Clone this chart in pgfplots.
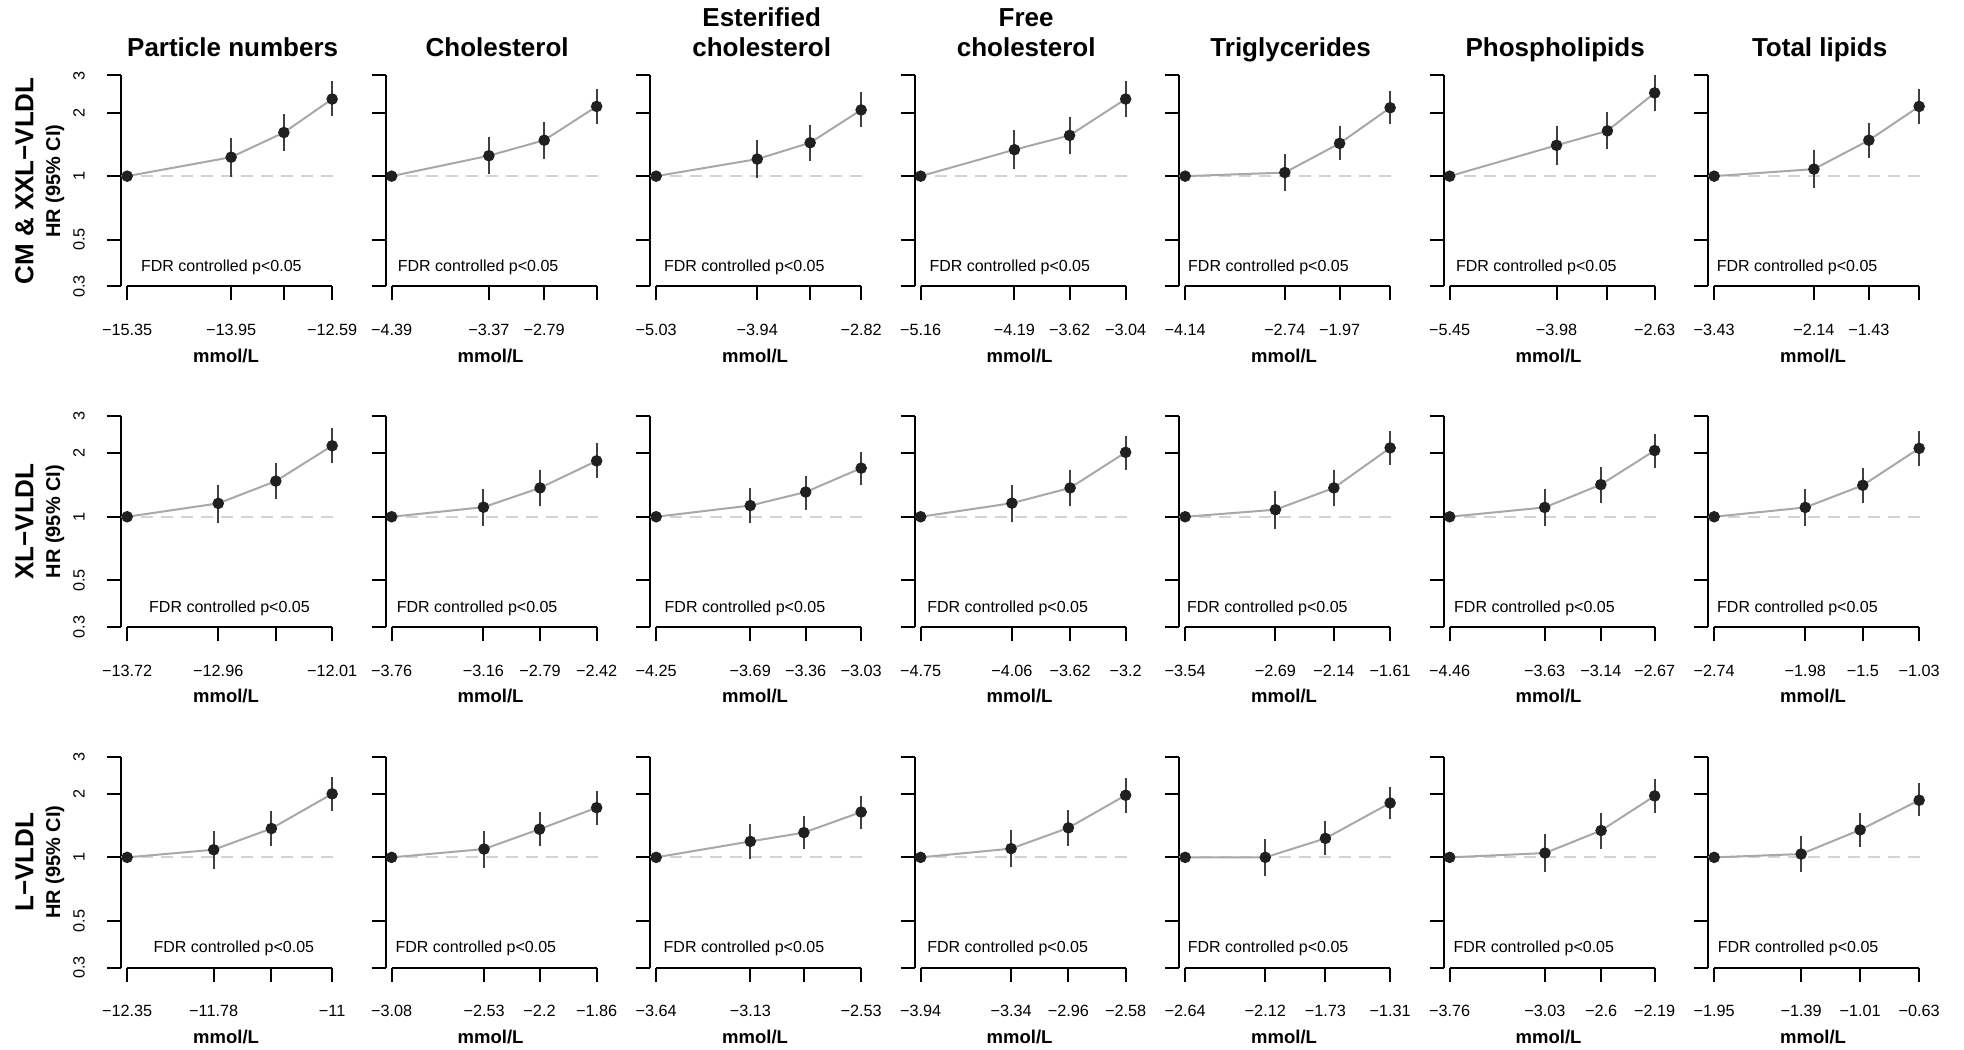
\documentclass[border=0pt]{standalone}
\usepackage{fontspec}
\setmainfont{Liberation Sans}
\usepackage{pgfplots}
\pgfplotsset{compat=1.18}
\definecolor{ptcol}{HTML}{202020}
\definecolor{linecol}{HTML}{A8A8A8}
\definecolor{cicol}{HTML}{404040}
\definecolor{refcol}{HTML}{D3D3D3}
\pgfplotsset{
  hrpanel/.style={
    scale only axis, width=86.92pt, height=84.4pt, anchor=south west,
    ymin=0.3, ymax=3, yminorticks=false,
    enlarge x limits=0.03, clip=false,
    axis x line*=bottom, axis y line*=left,
    x axis line style={draw=none},
    y axis line style={line width=0.8pt, black},
    tick align=outside, major tick length=5.6pt,
    major tick style={line width=0.8pt, black},
    ytick={0.3,0.5,1,2,3}, yticklabels={},
    xticklabel style={font=\fontsize{6.5}{7.5}\selectfont, anchor=base},
    xticklabel shift=14pt,
    xlabel={mmol/L},
    xlabel style={font=\fontsize{7.4}{9}\selectfont\bfseries, at={(axis description cs:0.5,0)}, anchor=base, yshift=-30.3pt, xshift=-1.44pt},
  },
  hrylab/.style={yticklabels={0.3,0.5,1,2,3}, yticklabel style={font=\fontsize{6.5}{7.5}\selectfont, rotate=90, anchor=base}, yticklabel shift=9pt},
  hrconn/.style={color=linecol, line width=0.8pt, no markers},
  hrci/.style={color=cicol, line width=0.8pt, no markers, unbounded coords=jump},
  hrpts/.style={only marks, mark=*, mark size=2.1pt, color=ptcol, mark options={fill=ptcol, draw=ptcol}},
}
\tikzset{
  refl/.style={color=refcol, line width=0.8pt, dash pattern=on 4.8pt off 3.2pt},
  axl/.style={line width=0.8pt, black},
  fdr/.style={font=\fontsize{6.4}{7.5}\selectfont, anchor=base west, inner sep=0pt},
  ttl/.style={font=\fontsize{10.4}{12}\selectfont\bfseries, anchor=base, inner sep=0pt},
  rowl/.style={font=\fontsize{10.4}{12}\selectfont\bfseries, rotate=90, anchor=base, inner sep=0pt},
  hrl/.style={font=\fontsize{8}{9}\selectfont\bfseries, rotate=90, anchor=base, inner sep=0pt},
}
\newcommand{\refline}{\draw[refl] (rel axis cs:0,0.52288) -- (rel axis cs:1,0.52288);}
\newcommand{\fdrtext}[1]{\node[fdr] at ([xshift=#1,yshift=5.88pt]rel axis cs:0,0) {FDR controlled p<0.05};}
\newcommand{\ttlone}[1]{\node[ttl] at ([xshift=1.2pt,yshift=7.6pt]rel axis cs:0.5,1) {#1};}
\newcommand{\ttltwo}[2]{\node[ttl] at ([xshift=1.2pt,yshift=19.6pt]rel axis cs:0.5,1) {#1};\node[ttl] at ([xshift=1.2pt,yshift=7.6pt]rel axis cs:0.5,1) {#2};}
\begin{document}
\begin{tikzpicture}
\useasboundingbox (0,0) rectangle (785.6pt,420pt);
% row labels
\node[rowl] at (13.4pt,347.6pt) {CM \& XXL−VLDL};
\node[hrl] at (24pt,347.6pt) {HR (95\% CI)};
\node[rowl] at (13.4pt,211.36pt) {XL−VLDL};
\node[hrl] at (24pt,211.36pt) {HR (95\% CI)};
\node[rowl] at (13.4pt,75.12pt) {L−VLDL};
\node[hrl] at (24pt,75.12pt) {HR (95\% CI)};

%================ ROW 1 ================
\begin{axis}[ymode=log, hrpanel, hrylab, at={(48.4pt,305.4pt)}, xtick={-15.35,-13.95,-13.24,-12.59}, xticklabels={−15.35,−13.95,,−12.59}]
\refline
\addplot[hrconn] coordinates {(-15.35,1)(-13.95,1.23)(-13.24,1.61)(-12.59,2.32)};
\addplot[hrci] coordinates {(-13.95,0.99)(-13.95,1.52)(-13.95,nan)(-13.24,1.32)(-13.24,1.97)(-13.24,nan)(-12.59,1.92)(-12.59,2.81)};
\addplot[hrpts] coordinates {(-15.35,1)(-13.95,1.23)(-13.24,1.61)(-12.59,2.32)};
\draw[axl] (axis cs:-15.35,0.3) -- (axis cs:-12.59,0.3);
\fdrtext{7.84pt}
\ttlone{Particle numbers}
\end{axis}

\begin{axis}[ymode=log, hrpanel, at={(154.2pt,305.4pt)}, xtick={-4.39,-3.37,-2.79,-2.24}, xticklabels={−4.39,−3.37,−2.79,}]
\refline
\addplot[hrconn] coordinates {(-4.39,1)(-3.37,1.25)(-2.79,1.48)(-2.24,2.14)};
\addplot[hrci] coordinates {(-3.37,1.02)(-3.37,1.54)(-3.37,nan)(-2.79,1.21)(-2.79,1.80)(-2.79,nan)(-2.24,1.77)(-2.24,2.60)};
\addplot[hrpts] coordinates {(-4.39,1)(-3.37,1.25)(-2.79,1.48)(-2.24,2.14)};
\draw[axl] (axis cs:-4.39,0.3) -- (axis cs:-2.24,0.3);
\fdrtext{4.72pt}
\ttlone{Cholesterol}
\end{axis}

\begin{axis}[ymode=log, hrpanel, at={(260.0pt,305.4pt)}, xtick={-5.03,-3.94,-3.37,-2.82}, xticklabels={−5.03,−3.94,,−2.82}]
\refline
\addplot[hrconn] coordinates {(-5.03,1)(-3.94,1.205)(-3.37,1.44)(-2.82,2.06)};
\addplot[hrci] coordinates {(-3.94,0.98)(-3.94,1.48)(-3.94,nan)(-3.37,1.18)(-3.37,1.74)(-3.37,nan)(-2.82,1.71)(-2.82,2.50)};
\addplot[hrpts] coordinates {(-5.03,1)(-3.94,1.205)(-3.37,1.44)(-2.82,2.06)};
\draw[axl] (axis cs:-5.03,0.3) -- (axis cs:-2.82,0.3);
\fdrtext{5.4pt}
\ttltwo{Esterified}{cholesterol}
\end{axis}

\begin{axis}[ymode=log, hrpanel, at={(365.8pt,305.4pt)}, xtick={-5.16,-4.19,-3.62,-3.04}, xticklabels={−5.16,−4.19,−3.62,−3.04}]
\refline
\addplot[hrconn] coordinates {(-5.16,1)(-4.19,1.335)(-3.62,1.56)(-3.04,2.32)};
\addplot[hrci] coordinates {(-4.19,1.08)(-4.19,1.65)(-4.19,nan)(-3.62,1.28)(-3.62,1.90)(-3.62,nan)(-3.04,1.91)(-3.04,2.81)};
\addplot[hrpts] coordinates {(-5.16,1)(-4.19,1.335)(-3.62,1.56)(-3.04,2.32)};
\draw[axl] (axis cs:-5.16,0.3) -- (axis cs:-3.04,0.3);
\fdrtext{5.8pt}
\ttltwo{Free}{cholesterol}
\end{axis}

\begin{axis}[ymode=log, hrpanel, at={(471.6pt,305.4pt)}, xtick={-4.14,-2.74,-1.97,-1.26}, xticklabels={−4.14,−2.74,−1.97,}]
\refline
\addplot[hrconn] coordinates {(-4.14,1)(-2.74,1.04)(-1.97,1.43)(-1.26,2.11)};
\addplot[hrci] coordinates {(-2.74,0.85)(-2.74,1.28)(-2.74,nan)(-1.97,1.19)(-1.97,1.73)(-1.97,nan)(-1.26,1.76)(-1.26,2.52)};
\addplot[hrpts] coordinates {(-4.14,1)(-2.74,1.04)(-1.97,1.43)(-1.26,2.11)};
\draw[axl] (axis cs:-4.14,0.3) -- (axis cs:-1.26,0.3);
\fdrtext{3.48pt}
\ttlone{Triglycerides}
\end{axis}

\begin{axis}[ymode=log, hrpanel, at={(577.4pt,305.4pt)}, xtick={-5.45,-3.98,-3.28,-2.63}, xticklabels={−5.45,−3.98,,−2.63}]
\refline
\addplot[hrconn] coordinates {(-5.45,1)(-3.98,1.40)(-3.28,1.64)(-2.63,2.48)};
\addplot[hrci] coordinates {(-3.98,1.13)(-3.98,1.72)(-3.98,nan)(-3.28,1.34)(-3.28,2.01)(-3.28,nan)(-2.63,2.03)(-2.63,3.01)};
\addplot[hrpts] coordinates {(-5.45,1)(-3.98,1.40)(-3.28,1.64)(-2.63,2.48)};
\draw[axl] (axis cs:-5.45,0.3) -- (axis cs:-2.63,0.3);
\fdrtext{4.84pt}
\ttlone{Phospholipids}
\end{axis}

\begin{axis}[ymode=log, hrpanel, at={(683.2pt,305.4pt)}, xtick={-3.43,-2.14,-1.43,-0.78}, xticklabels={−3.43,−2.14,−1.43,}]
\refline
\addplot[hrconn] coordinates {(-3.43,1)(-2.14,1.08)(-1.43,1.48)(-0.78,2.14)};
\addplot[hrci] coordinates {(-2.14,0.877)(-2.14,1.325)(-2.14,nan)(-1.43,1.22)(-1.43,1.79)(-1.43,nan)(-0.78,1.77)(-0.78,2.59)};
\addplot[hrpts] coordinates {(-3.43,1)(-2.14,1.08)(-1.43,1.48)(-0.78,2.14)};
\draw[axl] (axis cs:-3.43,0.3) -- (axis cs:-0.78,0.3);
\fdrtext{3.32pt}
\ttlone{Total lipids}
\end{axis}

%================ ROW 2 ================
\begin{axis}[ymode=log, hrpanel, hrylab, at={(48.4pt,169.16pt)}, xtick={-13.72,-12.96,-12.48,-12.01}, xticklabels={−13.72,−12.96,,−12.01}]
\refline
\addplot[hrconn] coordinates {(-13.72,1)(-12.96,1.157)(-12.48,1.476)(-12.01,2.17)};
\addplot[hrci] coordinates {(-12.96,0.937)(-12.96,1.42)(-12.96,nan)(-12.48,1.21)(-12.48,1.80)(-12.48,nan)(-12.01,1.79)(-12.01,2.62)};
\addplot[hrpts] coordinates {(-13.72,1)(-12.96,1.157)(-12.48,1.476)(-12.01,2.17)};
\draw[axl] (axis cs:-13.72,0.3) -- (axis cs:-12.01,0.3);
\fdrtext{11.08pt}
\end{axis}

\begin{axis}[ymode=log, hrpanel, at={(154.2pt,169.16pt)}, xtick={-3.76,-3.16,-2.79,-2.42}, xticklabels={−3.76,−3.16,−2.79,−2.42}]
\refline
\addplot[hrconn] coordinates {(-3.76,1)(-3.16,1.11)(-2.79,1.37)(-2.42,1.84)};
\addplot[hrci] coordinates {(-3.16,0.906)(-3.16,1.36)(-3.16,nan)(-2.79,1.13)(-2.79,1.66)(-2.79,nan)(-2.42,1.53)(-2.42,2.23)};
\addplot[hrpts] coordinates {(-3.76,1)(-3.16,1.11)(-2.79,1.37)(-2.42,1.84)};
\draw[axl] (axis cs:-3.76,0.3) -- (axis cs:-2.42,0.3);
\fdrtext{4.36pt}
\end{axis}

\begin{axis}[ymode=log, hrpanel, at={(260.0pt,169.16pt)}, xtick={-4.25,-3.69,-3.36,-3.03}, xticklabels={−4.25,−3.69,−3.36,−3.03}]
\refline
\addplot[hrconn] coordinates {(-4.25,1)(-3.69,1.13)(-3.36,1.31)(-3.03,1.70)};
\addplot[hrci] coordinates {(-3.69,0.933)(-3.69,1.37)(-3.69,nan)(-3.36,1.08)(-3.36,1.56)(-3.36,nan)(-3.03,1.42)(-3.03,2.03)};
\addplot[hrpts] coordinates {(-4.25,1)(-3.69,1.13)(-3.36,1.31)(-3.03,1.70)};
\draw[axl] (axis cs:-4.25,0.3) -- (axis cs:-3.03,0.3);
\fdrtext{5.68pt}
\end{axis}

\begin{axis}[ymode=log, hrpanel, at={(365.8pt,169.16pt)}, xtick={-4.75,-4.06,-3.62,-3.2}, xticklabels={−4.75,−4.06,−3.62,−3.2}]
\refline
\addplot[hrconn] coordinates {(-4.75,1)(-4.06,1.16)(-3.62,1.37)(-3.2,2.02)};
\addplot[hrci] coordinates {(-4.06,0.94)(-4.06,1.41)(-4.06,nan)(-3.62,1.13)(-3.62,1.66)(-3.62,nan)(-3.2,1.67)(-3.2,2.42)};
\addplot[hrpts] coordinates {(-4.75,1)(-4.06,1.16)(-3.62,1.37)(-3.2,2.02)};
\draw[axl] (axis cs:-4.75,0.3) -- (axis cs:-3.2,0.3);
\fdrtext{4.96pt}
\end{axis}

\begin{axis}[ymode=log, hrpanel, at={(471.6pt,169.16pt)}, xtick={-3.54,-2.69,-2.14,-1.61}, xticklabels={−3.54,−2.69,−2.14,−1.61}]
\refline
\addplot[hrconn] coordinates {(-3.54,1)(-2.69,1.08)(-2.14,1.37)(-1.61,2.12)};
\addplot[hrci] coordinates {(-2.69,0.874)(-2.69,1.32)(-2.69,nan)(-2.14,1.13)(-2.14,1.66)(-2.14,nan)(-1.61,1.76)(-1.61,2.56)};
\addplot[hrpts] coordinates {(-3.54,1)(-2.69,1.08)(-2.14,1.37)(-1.61,2.12)};
\draw[axl] (axis cs:-3.54,0.3) -- (axis cs:-1.61,0.3);
\fdrtext{3.04pt}
\end{axis}

\begin{axis}[ymode=log, hrpanel, at={(577.4pt,169.16pt)}, xtick={-4.46,-3.63,-3.14,-2.67}, xticklabels={−4.46,−3.63,−3.14,−2.67}]
\refline
\addplot[hrconn] coordinates {(-4.46,1)(-3.63,1.107)(-3.14,1.42)(-2.67,2.06)};
\addplot[hrci] coordinates {(-3.63,0.90)(-3.63,1.36)(-3.63,nan)(-3.14,1.165)(-3.14,1.72)(-3.14,nan)(-2.67,1.70)(-2.67,2.48)};
\addplot[hrpts] coordinates {(-4.46,1)(-3.63,1.107)(-3.14,1.42)(-2.67,2.06)};
\draw[axl] (axis cs:-4.46,0.3) -- (axis cs:-2.67,0.3);
\fdrtext{4.08pt}
\end{axis}

\begin{axis}[ymode=log, hrpanel, at={(683.2pt,169.16pt)}, xtick={-2.74,-1.98,-1.5,-1.03}, xticklabels={−2.74,−1.98,−1.5,−1.03}]
\refline
\addplot[hrconn] coordinates {(-2.74,1)(-1.98,1.107)(-1.5,1.41)(-1.03,2.11)};
\addplot[hrci] coordinates {(-1.98,0.90)(-1.98,1.36)(-1.98,nan)(-1.5,1.16)(-1.5,1.71)(-1.5,nan)(-1.03,1.74)(-1.03,2.55)};
\addplot[hrpts] coordinates {(-2.74,1)(-1.98,1.107)(-1.5,1.41)(-1.03,2.11)};
\draw[axl] (axis cs:-2.74,0.3) -- (axis cs:-1.03,0.3);
\fdrtext{3.48pt}
\end{axis}

%================ ROW 3 ================
\begin{axis}[ymode=log, hrpanel, hrylab, at={(48.4pt,32.92pt)}, xtick={-12.35,-11.78,-11.40,-11}, xticklabels={−12.35,−11.78,,−11}]
\refline
\addplot[hrconn] coordinates {(-12.35,1)(-11.78,1.087)(-11.40,1.37)(-11,2.0)};
\addplot[hrci] coordinates {(-11.78,0.884)(-11.78,1.33)(-11.78,nan)(-11.40,1.13)(-11.40,1.66)(-11.40,nan)(-11,1.66)(-11,2.41)};
\addplot[hrpts] coordinates {(-12.35,1)(-11.78,1.087)(-11.40,1.37)(-11,2.0)};
\draw[axl] (axis cs:-12.35,0.3) -- (axis cs:-11,0.3);
\fdrtext{12.84pt}
\end{axis}

\begin{axis}[ymode=log, hrpanel, at={(154.2pt,32.92pt)}, xtick={-3.08,-2.53,-2.2,-1.86}, xticklabels={−3.08,−2.53,−2.2,−1.86}]
\refline
\addplot[hrconn] coordinates {(-3.08,1)(-2.53,1.095)(-2.2,1.36)(-1.86,1.72)};
\addplot[hrci] coordinates {(-2.53,0.893)(-2.53,1.33)(-2.53,nan)(-2.2,1.13)(-2.2,1.645)(-2.2,nan)(-1.86,1.43)(-1.86,2.07)};
\addplot[hrpts] coordinates {(-3.08,1)(-2.53,1.095)(-2.2,1.36)(-1.86,1.72)};
\draw[axl] (axis cs:-3.08,0.3) -- (axis cs:-1.86,0.3);
\fdrtext{3.84pt}
\end{axis}

\begin{axis}[ymode=log, hrpanel, at={(260.0pt,32.92pt)}, xtick={-3.64,-3.13,-2.84,-2.53}, xticklabels={−3.64,−3.13,,−2.53}]
\refline
\addplot[hrconn] coordinates {(-3.64,1)(-3.13,1.19)(-2.84,1.31)(-2.53,1.64)};
\addplot[hrci] coordinates {(-3.13,0.985)(-3.13,1.435)(-3.13,nan)(-2.84,1.095)(-2.84,1.57)(-2.84,nan)(-2.53,1.37)(-2.53,1.95)};
\addplot[hrpts] coordinates {(-3.64,1)(-3.13,1.19)(-2.84,1.31)(-2.53,1.64)};
\draw[axl] (axis cs:-3.64,0.3) -- (axis cs:-2.53,0.3);
\fdrtext{5.28pt}
\end{axis}

\begin{axis}[ymode=log, hrpanel, at={(365.8pt,32.92pt)}, xtick={-3.94,-3.34,-2.96,-2.58}, xticklabels={−3.94,−3.34,−2.96,−2.58}]
\refline
\addplot[hrconn] coordinates {(-3.94,1)(-3.34,1.10)(-2.96,1.38)(-2.58,1.97)};
\addplot[hrci] coordinates {(-3.34,0.897)(-3.34,1.35)(-3.34,nan)(-2.96,1.136)(-2.96,1.67)(-2.96,nan)(-2.58,1.63)(-2.58,2.38)};
\addplot[hrpts] coordinates {(-3.94,1)(-3.34,1.10)(-2.96,1.38)(-2.58,1.97)};
\draw[axl] (axis cs:-3.94,0.3) -- (axis cs:-2.58,0.3);
\fdrtext{4.96pt}
\end{axis}

\begin{axis}[ymode=log, hrpanel, at={(471.6pt,32.92pt)}, xtick={-2.64,-2.12,-1.73,-1.31}, xticklabels={−2.64,−2.12,−1.73,−1.31}]
\refline
\addplot[hrconn] coordinates {(-2.64,1)(-2.12,1.0)(-1.73,1.23)(-1.31,1.81)};
\addplot[hrci] coordinates {(-2.12,0.82)(-2.12,1.22)(-2.12,nan)(-1.73,1.026)(-1.73,1.48)(-1.73,nan)(-1.31,1.515)(-1.31,2.16)};
\addplot[hrpts] coordinates {(-2.64,1)(-2.12,1.0)(-1.73,1.23)(-1.31,1.81)};
\draw[axl] (axis cs:-2.64,0.3) -- (axis cs:-1.31,0.3);
\fdrtext{3.32pt}
\end{axis}

\begin{axis}[ymode=log, hrpanel, at={(577.4pt,32.92pt)}, xtick={-3.76,-3.03,-2.6,-2.19}, xticklabels={−3.76,−3.03,−2.6,−2.19}]
\refline
\addplot[hrconn] coordinates {(-3.76,1)(-3.03,1.048)(-2.6,1.34)(-2.19,1.955)};
\addplot[hrci] coordinates {(-3.03,0.855)(-3.03,1.285)(-3.03,nan)(-2.6,1.10)(-2.6,1.62)(-2.6,nan)(-2.19,1.62)(-2.19,2.36)};
\addplot[hrpts] coordinates {(-3.76,1)(-3.03,1.048)(-2.6,1.34)(-2.19,1.955)};
\draw[axl] (axis cs:-3.76,0.3) -- (axis cs:-2.19,0.3);
\fdrtext{3.8pt}
\end{axis}

\begin{axis}[ymode=log, hrpanel, at={(683.2pt,32.92pt)}, xtick={-1.95,-1.39,-1.01,-0.63}, xticklabels={−1.95,−1.39,−1.01,−0.63}]
\refline
\addplot[hrconn] coordinates {(-1.95,1)(-1.39,1.037)(-1.01,1.35)(-0.63,1.865)};
\addplot[hrci] coordinates {(-1.39,0.849)(-1.39,1.26)(-1.39,nan)(-1.01,1.12)(-1.01,1.62)(-1.01,nan)(-0.63,1.565)(-0.63,2.24)};
\addplot[hrpts] coordinates {(-1.95,1)(-1.39,1.037)(-1.01,1.35)(-0.63,1.865)};
\draw[axl] (axis cs:-1.95,0.3) -- (axis cs:-0.63,0.3);
\fdrtext{3.72pt}
\end{axis}
\end{tikzpicture}
\end{document}
